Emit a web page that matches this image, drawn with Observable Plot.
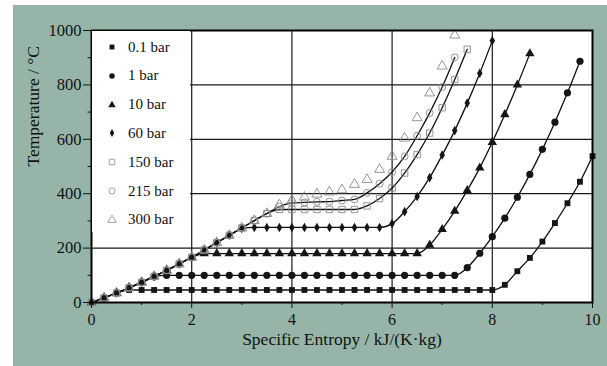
<!DOCTYPE html>
<html>
<head>
<meta charset="utf-8">
<script src="https://cdn.jsdelivr.net/npm/d3@7"></script>
<script src="https://cdn.jsdelivr.net/npm/@observablehq/plot@0.6"></script>
<style>
  body { margin: 0; background: #ffffff; }
  #wrap { position: relative; width: 607px; height: 366px; overflow: hidden; }
  #bg { position: absolute; left: 13px; top: 5px; width: 594px; height: 361px; background: #96b5a8; }
  #chart { position: absolute; left: 0; top: 0; }
  #legend { position: absolute; left: 92px; top: 31px; width: 98px; height: 201px; background: #ffffff; }
  .row { position: absolute; left: 0; height: 20px; display: flex; align-items: center;
         font-family: 'Liberation Serif', 'Times New Roman', serif; font-size: 15px; color: #111; }
  .row svg { margin-left: 15px; margin-right: 11px; }
</style>
</head>
<body>
<div id="wrap">
  <div id="bg"></div>
  <div id="chart"></div>
  <div id="legend"></div>
</div>
<script>
// Entropy grid (kJ/(K·kg)) at which the markers are sampled
const entropy = [0,0.25,0.5,0.75,1,1.25,1.5,1.75,2,2.25,2.5,2.75,3,3.25,3.5,3.75,4,4.25,4.5,4.75,5,5.25,5.5,5.75,6,6.25,6.5,6.75,7,7.25,7.5,7.75,8,8.25,8.5,8.75,9,9.25,9.5,9.75,10];

// Temperatures (°C) for each pressure, aligned with the entropy grid
const t01bar = [0,17,35,46,46,46,46,46,46,46,46,46,46,46,46,46,46,46,46,46,46,46,46,46,46,46,46,46,46,46,46,46,46,65,115,164,224,292,365,444,538];
const t1bar = [0,17,35,54,74,95,100,100,100,100,100,100,100,100,100,100,100,100,100,100,100,100,100,100,100,100,100,100,100,100,128,181,242,310,387,471,563,663,771,887];
const t10bar = [0,17,35,54,74,96,118,142,166,180,180,180,180,180,180,180,180,180,180,180,180,180,180,180,180,180,180,211,269,336,412,495,589,691,800,915];
const t60bar = [0,17,35,54,74,96,118,142,166,193,220,247,272,276,276,276,276,276,276,276,276,276,276,276,290,334,390,459,542,632,733,843,962];
const t150bar = [0,17,35,54,74,96,118,142,166,193,220,247,274,301,327,342,342,342,342,342,342,342,355,382,421,476,544,623,716,820,931];
const t215bar = [0,17,35,54,74,96,118,142,166,193,220,247,274,301,327,352,366,368,370,371,375,379,403,437,480,537,613,697,792,901];
const t300bar = [0,17,35,54,74,96,118,142,166,193,220,247,274,301,327,359,376,387,398,406,414,434,452,489,537,604,679,770,869,983];

const seriesNames = ["0.1 bar","1 bar","10 bar","60 bar","150 bar","215 bar","300 bar"];
const seriesTemps = [t01bar, t1bar, t10bar, t60bar, t150bar, t215bar, t300bar];
const seriesHasLine = [true, true, true, true, true, true, false];

const xTicks = [0,2,4,6,8,10];
const xMinor = [1,3,5,7,9];
const yTicks = [0,200,400,600,800,1000];
const yMinor = [100,300,500,700,900];
const xGrid = [2,4,6,8];
const yGrid = [200,400,600,800];

const serif = "'Liberation Serif', 'Times New Roman', serif";

// marker styles
const styles = [
  {symbol: "square",   r: 3.3, fill: "#151515", stroke: "none"},
  {symbol: "circle",   r: 3.6, fill: "#151515", stroke: "none"},
  {symbol: "triangle", r: 3.5, fill: "#151515", stroke: "none"},
  {symbol: "diamond",  r: 2.9, fill: "#151515", stroke: "none"},
  {symbol: "square",   r: 3.6, fill: "none", stroke: "#8a8a8a"},
  {symbol: "circle",   r: 3.5, fill: "none", stroke: "#8a8a8a"},
  {symbol: "triangle", r: 3.7, fill: "none", stroke: "#8a8a8a"}
];

const rows = [];
seriesNames.forEach((name, k) => {
  seriesTemps[k].forEach((t, i) => rows.push({series: name, s: entropy[i], t}));
});

const lineRows = rows.filter(d => seriesHasLine[seriesNames.indexOf(d.series)]);

const marks = [
  Plot.frame({fill: "white", stroke: "none"}),
  Plot.gridX({ticks: xGrid, stroke: "#1a1a1a", strokeOpacity: 1, strokeWidth: 1.2}),
  Plot.gridY({ticks: yGrid, stroke: "#1a1a1a", strokeOpacity: 1, strokeWidth: 1.2}),
  Plot.line(lineRows, {x: "s", y: "t", z: "series", curve: "monotone-x", stroke: "#111", strokeWidth: 1.3})
];
seriesNames.forEach((name, k) => {
  const st = styles[k];
  marks.push(Plot.dot(rows.filter(d => d.series === name), {
    x: "s", y: "t", symbol: () => st.symbol, r: st.r,
    fill: st.fill, stroke: st.stroke, strokeWidth: 0.9
  }));
});
marks.push(
  Plot.frame({stroke: "#000", strokeWidth: 2}),
  Plot.axisX({ticks: xTicks, tickSize: 6, tickPadding: 5, label: null, fontSize: 16, fontFamily: serif, tickFormat: d => String(d)}),
  Plot.axisX({ticks: xMinor, tickSize: 3, text: null, label: null}),
  Plot.axisY({ticks: yTicks, tickSize: 8, tickPadding: 2, label: null, fontSize: 16.5, fontFamily: serif, tickFormat: d => String(d)}),
  Plot.axisY({ticks: yMinor, tickSize: 3.5, text: null, label: null}),
  Plot.text(["Specific Entropy / kJ/(K·kg)"], {frameAnchor: "bottom", dy: 42, fontSize: 17.5, fontFamily: serif, fill: "#111"}),
  Plot.text(["Temperature / °C"], {frameAnchor: "left", dx: -58, rotate: -90, fontSize: 17.5, fontFamily: serif, fill: "#111"})
);

const chart = Plot.plot({
  width: 607,
  height: 366,
  marginLeft: 91,
  marginRight: 15,
  marginTop: 30,
  marginBottom: 64,
  style: {background: "transparent", fontFamily: serif, color: "#111", overflow: "visible"},
  x: {domain: [0, 10]},
  y: {domain: [0, 1000]},
  marks
});
document.getElementById("chart").appendChild(chart);

// Legend
const legend = document.getElementById("legend");
const symMap = {square: d3.symbolSquare, circle: d3.symbolCircle, triangle: d3.symbolTriangle, diamond: d3.symbolDiamond};
seriesNames.forEach((name, k) => {
  const st = styles[k];
  const row = document.createElement("div");
  row.className = "row";
  row.style.top = (6 + k * 28.8) + "px";
  const size = st.fill === "none" ? 30 : 24;
  const path = d3.symbol(symMap[st.symbol], st.symbol === "diamond" ? 18 : size)();
  row.innerHTML = `<svg width="10" height="10" viewBox="-5 -5 10 10"><path d="${path}" fill="${st.fill}" stroke="${st.stroke}" stroke-width="0.8"/></svg><span>${name}</span>`;
  legend.appendChild(row);
});
</script>
</body>
</html>
